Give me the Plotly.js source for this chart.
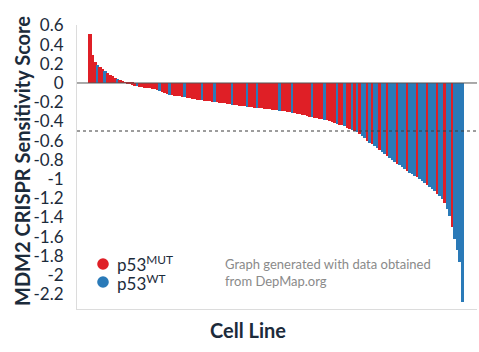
<!DOCTYPE html>
<html>
<head>
<meta charset="utf-8">
<script src="https://cdn.plot.ly/plotly-3.0.1.min.js"></script>
<style>html,body{margin:0;padding:0;background:#fff;}#chart{width:479px;height:352px;}</style>
</head>
<body>
<div id="chart"></div>
<script>
// MDM2 CRISPR sensitivity score per cell line (sorted)
const scores = [
  0.51, 0.29, 0.22, 0.19, 0.17, 0.145, 0.12, 0.10, 0.08, 0.07,
  0.055, 0.045, 0.03, 0.02, 0.008, -0.003, -0.012, -0.02, -0.027, -0.034,
  -0.04, -0.044, -0.048, -0.052, -0.055, -0.06, -0.066, -0.073, -0.08, -0.09,
  -0.10, -0.11, -0.12, -0.126, -0.131, -0.136, -0.14, -0.145, -0.15, -0.155,
  -0.16, -0.164, -0.168, -0.172, -0.175, -0.179, -0.183, -0.187, -0.19, -0.194,
  -0.198, -0.202, -0.205, -0.209, -0.213, -0.217, -0.22, -0.224, -0.228, -0.232,
  -0.235, -0.239, -0.243, -0.246, -0.25, -0.253, -0.256, -0.259, -0.262, -0.265,
  -0.268, -0.271, -0.275, -0.278, -0.282, -0.285, -0.289, -0.292, -0.296, -0.30,
  -0.304, -0.309, -0.314, -0.32, -0.326, -0.332, -0.338, -0.344, -0.35, -0.356,
  -0.362, -0.368, -0.372, -0.377, -0.382, -0.39, -0.40, -0.41, -0.42, -0.43,
  -0.435, -0.44, -0.452, -0.465, -0.475, -0.485, -0.495, -0.51, -0.535, -0.555,
  -0.575, -0.60, -0.62, -0.64, -0.66, -0.675, -0.70, -0.72, -0.74, -0.76,
  -0.78, -0.80, -0.82, -0.84, -0.855, -0.875, -0.895, -0.915, -0.935, -0.95,
  -0.965, -0.98, -0.995, -1.02, -1.04, -1.06, -1.08, -1.10, -1.13, -1.155,
  -1.18, -1.21, -1.25, -1.31, -1.39, -1.50, -1.62, -1.74, -1.86, -2.28
];
// p53 status per cell line: M = mutant, W = wild type
const p53Status = [
  'M','M','M','W','M','M','W','M','M','M',
  'M','W','M','M','M','M','M','M','M','W',
  'M','M','M','M','M','M','M','M','W','M',
  'M','M','W','M','M','M','M','M','W','M',
  'M','M','M','M','M','W','M','M','M','M',
  'W','M','M','M','M','M','M','W','M','M',
  'M','M','M','W','M','M','M','W','M','M',
  'M','M','M','M','M','M','W','M','M','M',
  'M','W','M','M','M','M','M','M','M','W',
  'M','M','M','M','W','M','M','M','M','W',
  'M','M','W','M','M','W','M','W','M','W',
  'W','M','W','M','W','W','M','W','W','M',
  'W','W','W','M','W','W','W','M','W','W',
  'W','M','W','W','W','M','W','W','W','M',
  'W','W','M','W','W','M','W','W','W','W'
];
const groupNames = {M: 'p53<sup>MUT</sup>', W: 'p53<sup>WT</sup>'};
const groupColors = {M: '#df1f26', W: '#2a7ab8'};
const yTickVals = [0.6, 0.4, 0.2, 0, -0.2, -0.4, -0.6, -0.8, -1, -1.2, -1.4, -1.6, -1.8, -2, -2.2];
const yTickText = ['0.6', '0.4', '0.2', '0', '-0.2', '-0.4', '-0.6', '-0.8', '-1', '-1.2', '-1.4', '-1.6', '-1.8', '-2', '-2.2'];

const FONT = 'Lato, "Open Sans", sans-serif';
const NAVY = '#1c2b3b';

const cellLine = scores.map((_, i) => i);
const barColors = p53Status.map(s => groupColors[s]);
const traces = [{
  type: 'bar', name: 'MDM2 score', x: cellLine, y: scores, width: 1.3,
  marker: {color: barColors, line: {width: 0}},
  showlegend: false, hoverinfo: 'skip'
}];

const n = scores.length;
const layout = {
  width: 479, height: 352,
  margin: {l: 77, r: 2, t: 25, b: 43, pad: 0},
  paper_bgcolor: '#ffffff', plot_bgcolor: '#ffffff',
  font: {family: FONT, color: NAVY},
  bargap: 0, bargroupgap: 0,
  showlegend: false,
  xaxis: {
    range: [-5.2, n + 4.8], showticklabels: false, ticks: '',
    showgrid: false, zeroline: false, showline: true, linecolor: '#dcdcdc', linewidth: 1
  },
  yaxis: {
    range: [-2.354, 0.604], tickvals: yTickVals, ticktext: yTickText, ticks: '',
    ticklabelstandoff: 9,
    tickfont: {family: FONT, size: 17, color: NAVY},
    showgrid: false, zeroline: false, showline: true, linecolor: '#dcdcdc', linewidth: 1
  },
  shapes: [
    {type: 'line', xref: 'paper', x0: 0, x1: 1, yref: 'y', y0: 0, y1: 0, line: {color: '#555555', width: 1}, layer: 'above'},
    {type: 'line', xref: 'paper', x0: 0, x1: 1, yref: 'y', y0: -0.5, y1: -0.5, line: {color: '#3a3a3a', width: 1, dash: 'dot'}, layer: 'above'},
    {type: 'circle', xref: 'paper', yref: 'paper', xsizemode: 'pixel', ysizemode: 'pixel',
     xanchor: 0.065, yanchor: 0.1585, x0: -5.8, x1: 5.8, y0: -5.8, y1: 5.8,
     fillcolor: groupColors.M, line: {width: 0}},
    {type: 'circle', xref: 'paper', yref: 'paper', xsizemode: 'pixel', ysizemode: 'pixel',
     xanchor: 0.065, yanchor: 0.095, x0: -5.8, x1: 5.8, y0: -5.8, y1: 5.8,
     fillcolor: groupColors.W, line: {width: 0}}
  ],
  annotations: [
    {xref: 'paper', yref: 'paper', x: 0.095, y: 0.1585, xanchor: 'left', yanchor: 'middle',
     text: groupNames.M, showarrow: false, font: {family: FONT, size: 17, color: NAVY}},
    {xref: 'paper', yref: 'paper', x: 0.095, y: 0.095, xanchor: 'left', yanchor: 'middle',
     text: groupNames.W, showarrow: false, font: {family: FONT, size: 17, color: NAVY}},
    {xref: 'paper', yref: 'paper', x: 0.365, y: 0.1285, xanchor: 'left', yanchor: 'middle', align: 'left',
     text: 'Graph generated with data obtained<br>from DepMap.org', showarrow: false,
     font: {family: FONT, size: 13, color: '#8a8a8a'}},
    {xref: 'paper', yref: 'paper', x: (248 - 77) / 400, y: 0, yshift: -21, xanchor: 'center', yanchor: 'middle',
     text: 'Cell Line', showarrow: false, font: {family: FONT, size: 20, color: NAVY, weight: 'bold'}},
    {xref: 'paper', yref: 'paper', x: (22 - 77) / 400, y: (309 - 161) / 284, xanchor: 'center', yanchor: 'middle',
     textangle: -90, text: 'MDM2 CRISPR Sensitivity Score', showarrow: false,
     font: {family: FONT, size: 20, color: NAVY, weight: 'bold'}}
  ]
};

Plotly.newPlot('chart', traces, layout, {displayModeBar: false});
</script>
</body>
</html>
